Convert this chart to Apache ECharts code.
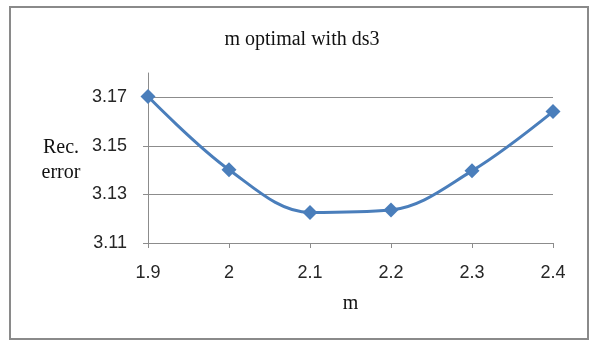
<!DOCTYPE html>
<html>
<head>
<meta charset="utf-8">
<script src="https://cdn.jsdelivr.net/npm/echarts@6/dist/echarts.min.js"></script>
<style>
html,body{margin:0;padding:0;background:#fff;}
#c{width:593px;height:343px;}
</style>
</head>
<body>
<div id="c"></div>
<script>
const titleText = 'm optimal with ds3';
const xName = 'm';
const yName = 'Rec.\nerror';
const mValues = [1.9, 2.0, 2.1, 2.2, 2.3, 2.4];
const recError = [3.1703, 3.1402, 3.1226, 3.1236, 3.1397, 3.1641];
const yTicks = [3.11, 3.13, 3.15, 3.17];

const chart = echarts.init(document.getElementById('c'), null, {renderer: 'canvas'});
const axisGray = '#8c8c8c';
const labelColor = '#262626';
const sansFont = '"Liberation Sans", Arial, sans-serif';
const serifFont = '"Liberation Serif", "Times New Roman", serif';

chart.setOption({
  backgroundColor: '#fff',
  animation: false,
  graphic: [
    {type: 'rect', shape: {x: 10, y: 7, width: 578, height: 332},
     style: {fill: 'none', stroke: '#8a8a8a', lineWidth: 2}, z: 100},
    {type: 'text', x: 302, y: 40,
     style: {text: titleText, font: '20px ' + serifFont, fill: '#111', align: 'center', verticalAlign: 'middle'}},
    {type: 'text', x: 61, y: 160,
     style: {text: yName, font: '20px ' + serifFont, fill: '#111', align: 'center', verticalAlign: 'middle', lineHeight: 25}}
  ],
  grid: {left: 148, right: 40, top: 73, bottom: 100, containLabel: false},
  xAxis: {
    type: 'value', min: 1.9, max: 2.4, interval: 0.1,
    name: xName, nameLocation: 'middle', nameGap: 51,
    nameTextStyle: {fontFamily: serifFont, fontSize: 20, color: '#111'},
    axisLine: {show: true, lineStyle: {color: axisGray, width: 1}},
    axisTick: {show: true, length: 5, lineStyle: {color: axisGray}},
    axisLabel: {margin: 21, fontFamily: sansFont, fontSize: 18, color: labelColor,
      formatter: v => String(Math.round(v * 10) / 10)},
    splitLine: {show: false}
  },
  yAxis: {
    type: 'value', min: 3.11, max: 3.18, interval: 0.02,
    axisLine: {show: true, lineStyle: {color: axisGray, width: 1}},
    axisTick: {show: true, length: 5, inside: false, lineStyle: {color: axisGray}, customValues: yTicks},
    axisLabel: {margin: 21, fontFamily: sansFont, fontSize: 18, color: labelColor,
      customValues: yTicks, formatter: v => v.toFixed(2)},
    splitLine: {show: true, lineStyle: {color: axisGray, width: 1}}
  },
  series: [{
    type: 'line',
    data: mValues.map((m, i) => [m, recError[i]]),
    smooth: 0.35,
    symbol: 'diamond',
    symbolSize: 15,
    itemStyle: {color: '#4a7ebb'},
    lineStyle: {color: '#4a7ebb', width: 3}
  }]
});
</script>
</body>
</html>
